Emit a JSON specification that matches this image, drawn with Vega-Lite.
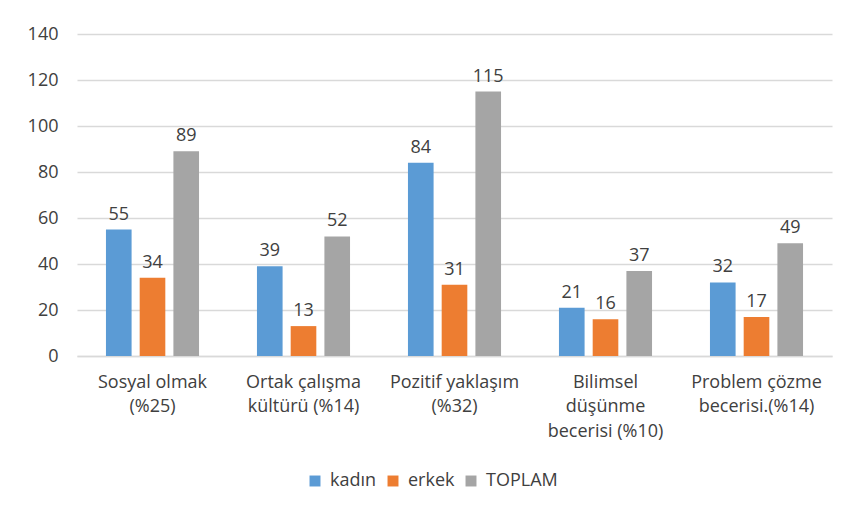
{
  "$schema": "https://vega.github.io/schema/vega-lite/v6.json",
  "width": 755,
  "height": 322,
  "autosize": {"type": "none"},
  "padding": {"left": 77, "top": 34, "right": 12, "bottom": 152},
  "background": "white",
  "config": {
    "font": "Open Sans",
    "view": {"stroke": null},
    "axis": {"labelFont": "Open Sans", "labelColor": "#404040", "labelFontSize": 18}
  },
  "data": {
    "values": [
      {"kategori": "Sosyal olmak|(%25)", "cinsiyet": "kadın", "deger": 55},
      {"kategori": "Sosyal olmak|(%25)", "cinsiyet": "erkek", "deger": 34},
      {"kategori": "Sosyal olmak|(%25)", "cinsiyet": "TOPLAM", "deger": 89},
      {"kategori": "Ortak çalışma|kültürü (%14)", "cinsiyet": "kadın", "deger": 39},
      {"kategori": "Ortak çalışma|kültürü (%14)", "cinsiyet": "erkek", "deger": 13},
      {"kategori": "Ortak çalışma|kültürü (%14)", "cinsiyet": "TOPLAM", "deger": 52},
      {"kategori": "Pozitif yaklaşım|(%32)", "cinsiyet": "kadın", "deger": 84},
      {"kategori": "Pozitif yaklaşım|(%32)", "cinsiyet": "erkek", "deger": 31},
      {"kategori": "Pozitif yaklaşım|(%32)", "cinsiyet": "TOPLAM", "deger": 115},
      {"kategori": "Bilimsel|düşünme|becerisi (%10)", "cinsiyet": "kadın", "deger": 21},
      {"kategori": "Bilimsel|düşünme|becerisi (%10)", "cinsiyet": "erkek", "deger": 16},
      {"kategori": "Bilimsel|düşünme|becerisi (%10)", "cinsiyet": "TOPLAM", "deger": 37},
      {"kategori": "Problem çözme|becerisi.(%14)", "cinsiyet": "kadın", "deger": 32},
      {"kategori": "Problem çözme|becerisi.(%14)", "cinsiyet": "erkek", "deger": 17},
      {"kategori": "Problem çözme|becerisi.(%14)", "cinsiyet": "TOPLAM", "deger": 49}
    ]
  },
  "encoding": {
    "x": {
      "field": "kategori",
      "type": "nominal",
      "sort": null,
      "scale": {"paddingInner": 0.33, "paddingOuter": 0.165},
      "axis": {
        "title": null,
        "labelAngle": 0,
        "labelExpr": "split(datum.label, '|')",
        "labelLineHeight": 24.5,
        "labelPadding": 17,
        "labelBaseline": "top",
        "ticks": false,
        "domainColor": "#D9D9D9",
        "domainWidth": 1.5
      }
    },
    "xOffset": {
      "field": "cinsiyet",
      "type": "nominal",
      "sort": ["kadın", "erkek", "TOPLAM"],
      "scale": {"paddingInner": 0.24, "paddingOuter": 0.12}
    },
    "y": {
      "field": "deger",
      "type": "quantitative",
      "scale": {"domain": [0, 140]},
      "axis": {
        "title": null,
        "values": [0, 20, 40, 60, 80, 100, 120, 140],
        "domain": false,
        "ticks": false,
        "labelPadding": 19,
        "gridColor": "#D9D9D9",
        "gridWidth": 1.5
      }
    }
  },
  "layer": [
    {
      "mark": {"type": "bar"},
      "encoding": {
        "color": {
          "field": "cinsiyet",
          "type": "nominal",
          "sort": ["kadın", "erkek", "TOPLAM"],
          "scale": {"domain": ["kadın", "erkek", "TOPLAM"], "range": ["#5B9BD5", "#ED7D31", "#A5A5A5"]},
          "legend": {
            "title": null,
            "orient": "none",
            "direction": "horizontal",
            "legendX": 229,
            "legendY": 438,
            "symbolType": "square",
            "symbolSize": 120,
            "symbolStrokeWidth": 0,
            "labelFont": "Open Sans",
            "labelFontSize": 18,
            "labelColor": "#404040",
            "columnPadding": 7,
            "labelOffset": 6
          }
        }
      }
    },
    {
      "mark": {"type": "text", "baseline": "bottom", "dy": -6, "fontSize": 18, "font": "Open Sans", "color": "#404040"},
      "encoding": {"text": {"field": "deger", "type": "quantitative"}}
    }
  ]
}
